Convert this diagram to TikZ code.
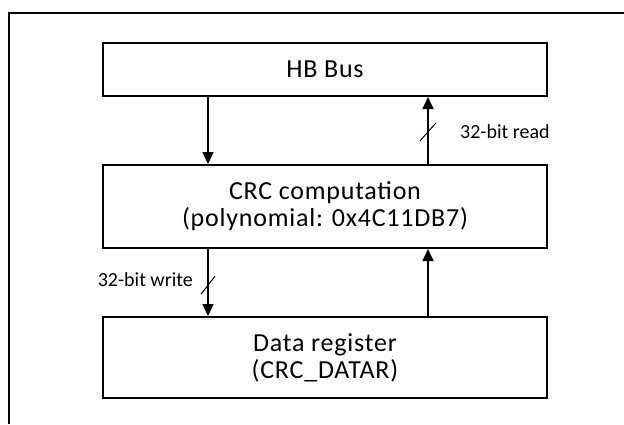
\documentclass[tikz,border=0pt]{standalone}
\usepackage{fontspec}
\setmainfont{Carlito}
\usetikzlibrary{arrows.meta,calc}

\begin{document}
\begin{tikzpicture}[x=1bp,y=-1bp,
    block/.style={draw,line width=2bp,minimum width=444bp,inner sep=0pt,align=center,
        font=\fontsize{26bp}{27bp}\selectfont\addfontfeatures{LetterSpace=3}},
    bus/.style={line width=1.5bp,-{Triangle[length=12bp,width=11bp]}},
    tag/.style={inner sep=0pt,font=\fontsize{20bp}{24bp}\selectfont}]

	% frame
	\useasboundingbox (0,0) rectangle (624,424);
	\draw [line width=1.5bp] (9,424) -- (9,13) -- (624,13);

	% blocks
	\node [block,minimum height=53bp] (hbbus) at (325,69.5) {HB Bus};
	\node [block,minimum height=83bp] (crc) at (325,206.5) {CRC computation\\(polynomial: 0x4C11DB7)};
	\node [block,minimum height=81bp] (datar) at (325,357.5) {Data register\\(CRC\_DATAR)};

	% buses
	\coordinate (wr) at (208,0);
	\coordinate (rd) at (428,0);
	\draw [bus] (hbbus.south -| wr) -- (crc.north -| wr);
	\draw [bus] (crc.north -| rd) -- coordinate[pos=0.48] (rdmark) (hbbus.south -| rd);
	\draw [bus] (crc.south -| wr) -- coordinate[pos=0.54] (wrmark) (datar.north -| wr);
	\draw [bus] (datar.north -| rd) -- (crc.south -| rd);

	% width marks
	\draw [line width=1bp] ($(rdmark)+(-8,9)$) -- ($(rdmark)+(8,-9)$);
	\draw [line width=1bp] ($(wrmark)+(-7,9)$) -- ($(wrmark)+(7,-9)$);
	\node [tag,anchor=west] (rdlabel) at (460,132) {32-bit read};
	\node [tag,anchor=east] (wrlabel) at (193,280) {32-bit write};

\end{tikzpicture}
\end{document}
